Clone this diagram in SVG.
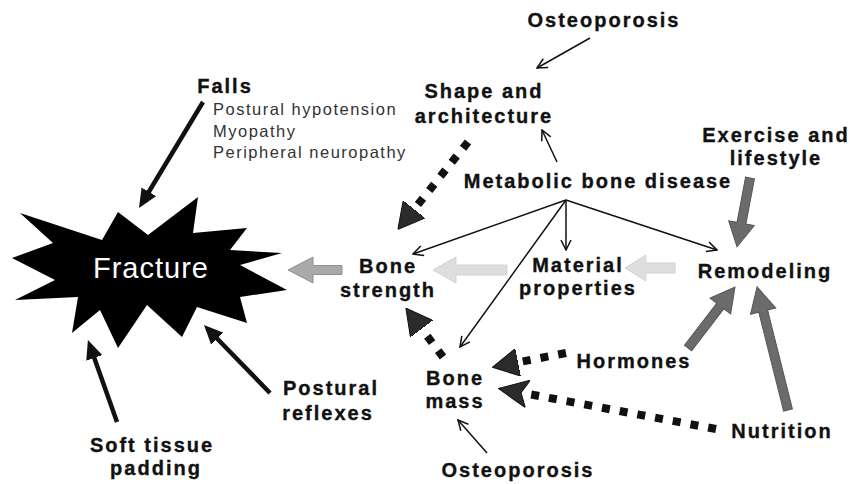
<svg xmlns="http://www.w3.org/2000/svg" width="852" height="484" viewBox="0 0 852 484">
<style>
.lbl{font-family:"Liberation Sans",Arial,sans-serif;font-weight:bold;font-size:20px;letter-spacing:2px;fill:#111;stroke:#111;stroke-width:0.35;text-anchor:middle}
.sub{font-family:"Liberation Sans",Arial,sans-serif;font-size:16.5px;letter-spacing:1.5px;fill:#333}
.thin{stroke:#111;stroke-width:1.5;fill:none}
.thick{stroke:#111;stroke-width:4.5;fill:none}
.dash{stroke:#111;stroke-width:8;stroke-dasharray:8 10;fill:none}
.blkD{fill:#6b6b6b;stroke:#555;stroke-width:1}
.blkM{fill:#a9a9a9;stroke:#909090;stroke-width:1}
.blkL{fill:#dedede;stroke:#d2d2d2;stroke-width:1}
</style>
<defs>
<marker id="open" viewBox="0 0 12 12" markerWidth="12" markerHeight="12" refX="11" refY="6" orient="auto" markerUnits="userSpaceOnUse">
<path d="M1,1 L11,6 L1,11" fill="none" stroke="#111" stroke-width="1.5"/>
</marker>
<marker id="solid" viewBox="0 0 19 17" markerWidth="19" markerHeight="17" refX="2" refY="8.5" orient="auto" markerUnits="userSpaceOnUse">
<path d="M0,0 L19,8.5 L0,17 z" fill="#111"/>
</marker>
<marker id="big" viewBox="0 0 26 28" markerWidth="26" markerHeight="28" refX="1" refY="14" orient="auto" markerUnits="userSpaceOnUse">
<path d="M0,0 L26,14 L0,28 z" fill="#2b2b2b" stroke="#111" stroke-width="1"/>
</marker>
<marker id="barb" viewBox="0 0 30 28" markerWidth="30" markerHeight="28" refX="5" refY="14" orient="auto" markerUnits="userSpaceOnUse">
<path d="M0,0 L30,14 L0,28 L7,14 z" fill="#2b2b2b" stroke="#111" stroke-width="1"/>
</marker>
</defs>
<rect width="852" height="484" fill="#fff"/>

<g id="fracture">
<polygon points="20,213 102,240 118,212 148,235 198,197 193,233 247,228 230,250 282,253 240,265 287,290 240,297 247,323 197,307 182,337 147,305 118,348 100,310 72,333 78,297 15,300 55,280 12,258 53,243" fill="#000"/>
<text x="151" y="278" font-family="Liberation Sans,Arial,sans-serif" font-size="29" letter-spacing="1" fill="#fff" text-anchor="middle">Fracture</text>
</g>
<g id="falls">
<text class="lbl" x="225" y="93">Falls</text>
<text class="sub" x="213" y="115">Postural hypotension</text>
<text class="sub" x="213" y="136.5">Myopathy</text>
<text class="sub" x="213" y="158">Peripheral neuropathy</text>
</g>
<g id="osteoporosis-top"><text class="lbl" x="604" y="27">Osteoporosis</text></g>
<g id="shape"><text class="lbl" x="484" y="98">Shape and</text><text class="lbl" x="484" y="123">architecture</text></g>
<g id="exercise"><text class="lbl" x="776" y="142">Exercise and</text><text class="lbl" x="776" y="165">lifestyle</text></g>
<g id="metabolic"><text class="lbl" x="598" y="188">Metabolic bone disease</text></g>
<g id="bone-strength"><text class="lbl" x="388" y="273">Bone</text><text class="lbl" x="388" y="297">strength</text></g>
<g id="material"><text class="lbl" x="578" y="272">Material</text><text class="lbl" x="578" y="295">properties</text></g>
<g id="remodeling"><text class="lbl" x="765" y="278">Remodeling</text></g>
<g id="hormones"><text class="lbl" x="634" y="368">Hormones</text></g>
<g id="bone-mass"><text class="lbl" x="455" y="385">Bone</text><text class="lbl" x="455" y="408">mass</text></g>
<g id="nutrition"><text class="lbl" x="782" y="438">Nutrition</text></g>
<g id="osteoporosis-bottom"><text class="lbl" x="518" y="477">Osteoporosis</text></g>
<g id="postural-reflexes"><text class="lbl" x="331" y="395">Postural</text><text class="lbl" x="328" y="420">reflexes</text></g>
<g id="soft-tissue"><text class="lbl" x="152" y="452">Soft tissue</text><text class="lbl" x="156" y="475">padding</text></g>

<g id="connectors">
<line class="thick" x1="203" y1="102" x2="147.8" y2="193.5" marker-end="url(#solid)"/>
<line class="thick" x1="117" y1="422" x2="93.6" y2="356" marker-end="url(#solid)"/>
<line class="thick" x1="270" y1="393" x2="215.8" y2="337.2" marker-end="url(#solid)"/>

<polygon class="blkM" points="342,265.5 313,265.5 313,257 288,270 313,283 313,274.5 342,274.5"/>
<polygon class="blkL" points="507,265 456,265 456,257 433,270 456,283 456,275 507,275"/>
<polygon class="blkL" points="675,263 646,263 646,255 625,268 646,281 646,273 675,273"/>

<polygon class="blkD" transform="translate(750,178) rotate(100.7)" points="0,-4.5 46,-4.5 46,-13 70,0 46,13 46,4.5 0,4.5"/>
<polygon class="blkD" transform="translate(688,348) rotate(-52.4)" points="0,-4.5 53,-4.5 53,-13 77,0 53,13 53,4.5 0,4.5"/>
<polygon class="blkD" transform="translate(788,410) rotate(-104.1)" points="0,-4.5 102,-4.5 102,-13 127,0 102,13 102,4.5 0,4.5"/>

<line class="dash" x1="468" y1="142" x2="413.5" y2="210" marker-end="url(#big)"/>
<line class="dash" x1="443" y1="357" x2="421" y2="328" marker-end="url(#big)"/>
<line class="dash" x1="566" y1="353" x2="517" y2="362.5" marker-end="url(#big)"/>
<line class="dash" x1="716" y1="429" x2="523" y2="393" marker-end="url(#barb)"/>

<line class="thin" x1="590" y1="38" x2="537" y2="68" marker-end="url(#open)"/>
<line class="thin" x1="557" y1="162" x2="542" y2="130" marker-end="url(#open)"/>
<line class="thin" x1="566" y1="200" x2="413" y2="254" marker-end="url(#open)"/>
<line class="thin" x1="566" y1="200" x2="566" y2="250" marker-end="url(#open)"/>
<line class="thin" x1="566" y1="200" x2="717" y2="250" marker-end="url(#open)"/>
<line class="thin" x1="566" y1="200" x2="460" y2="347" marker-end="url(#open)"/>
<line class="thin" x1="487" y1="453" x2="458" y2="420" marker-end="url(#open)"/>
</g>
</svg>
